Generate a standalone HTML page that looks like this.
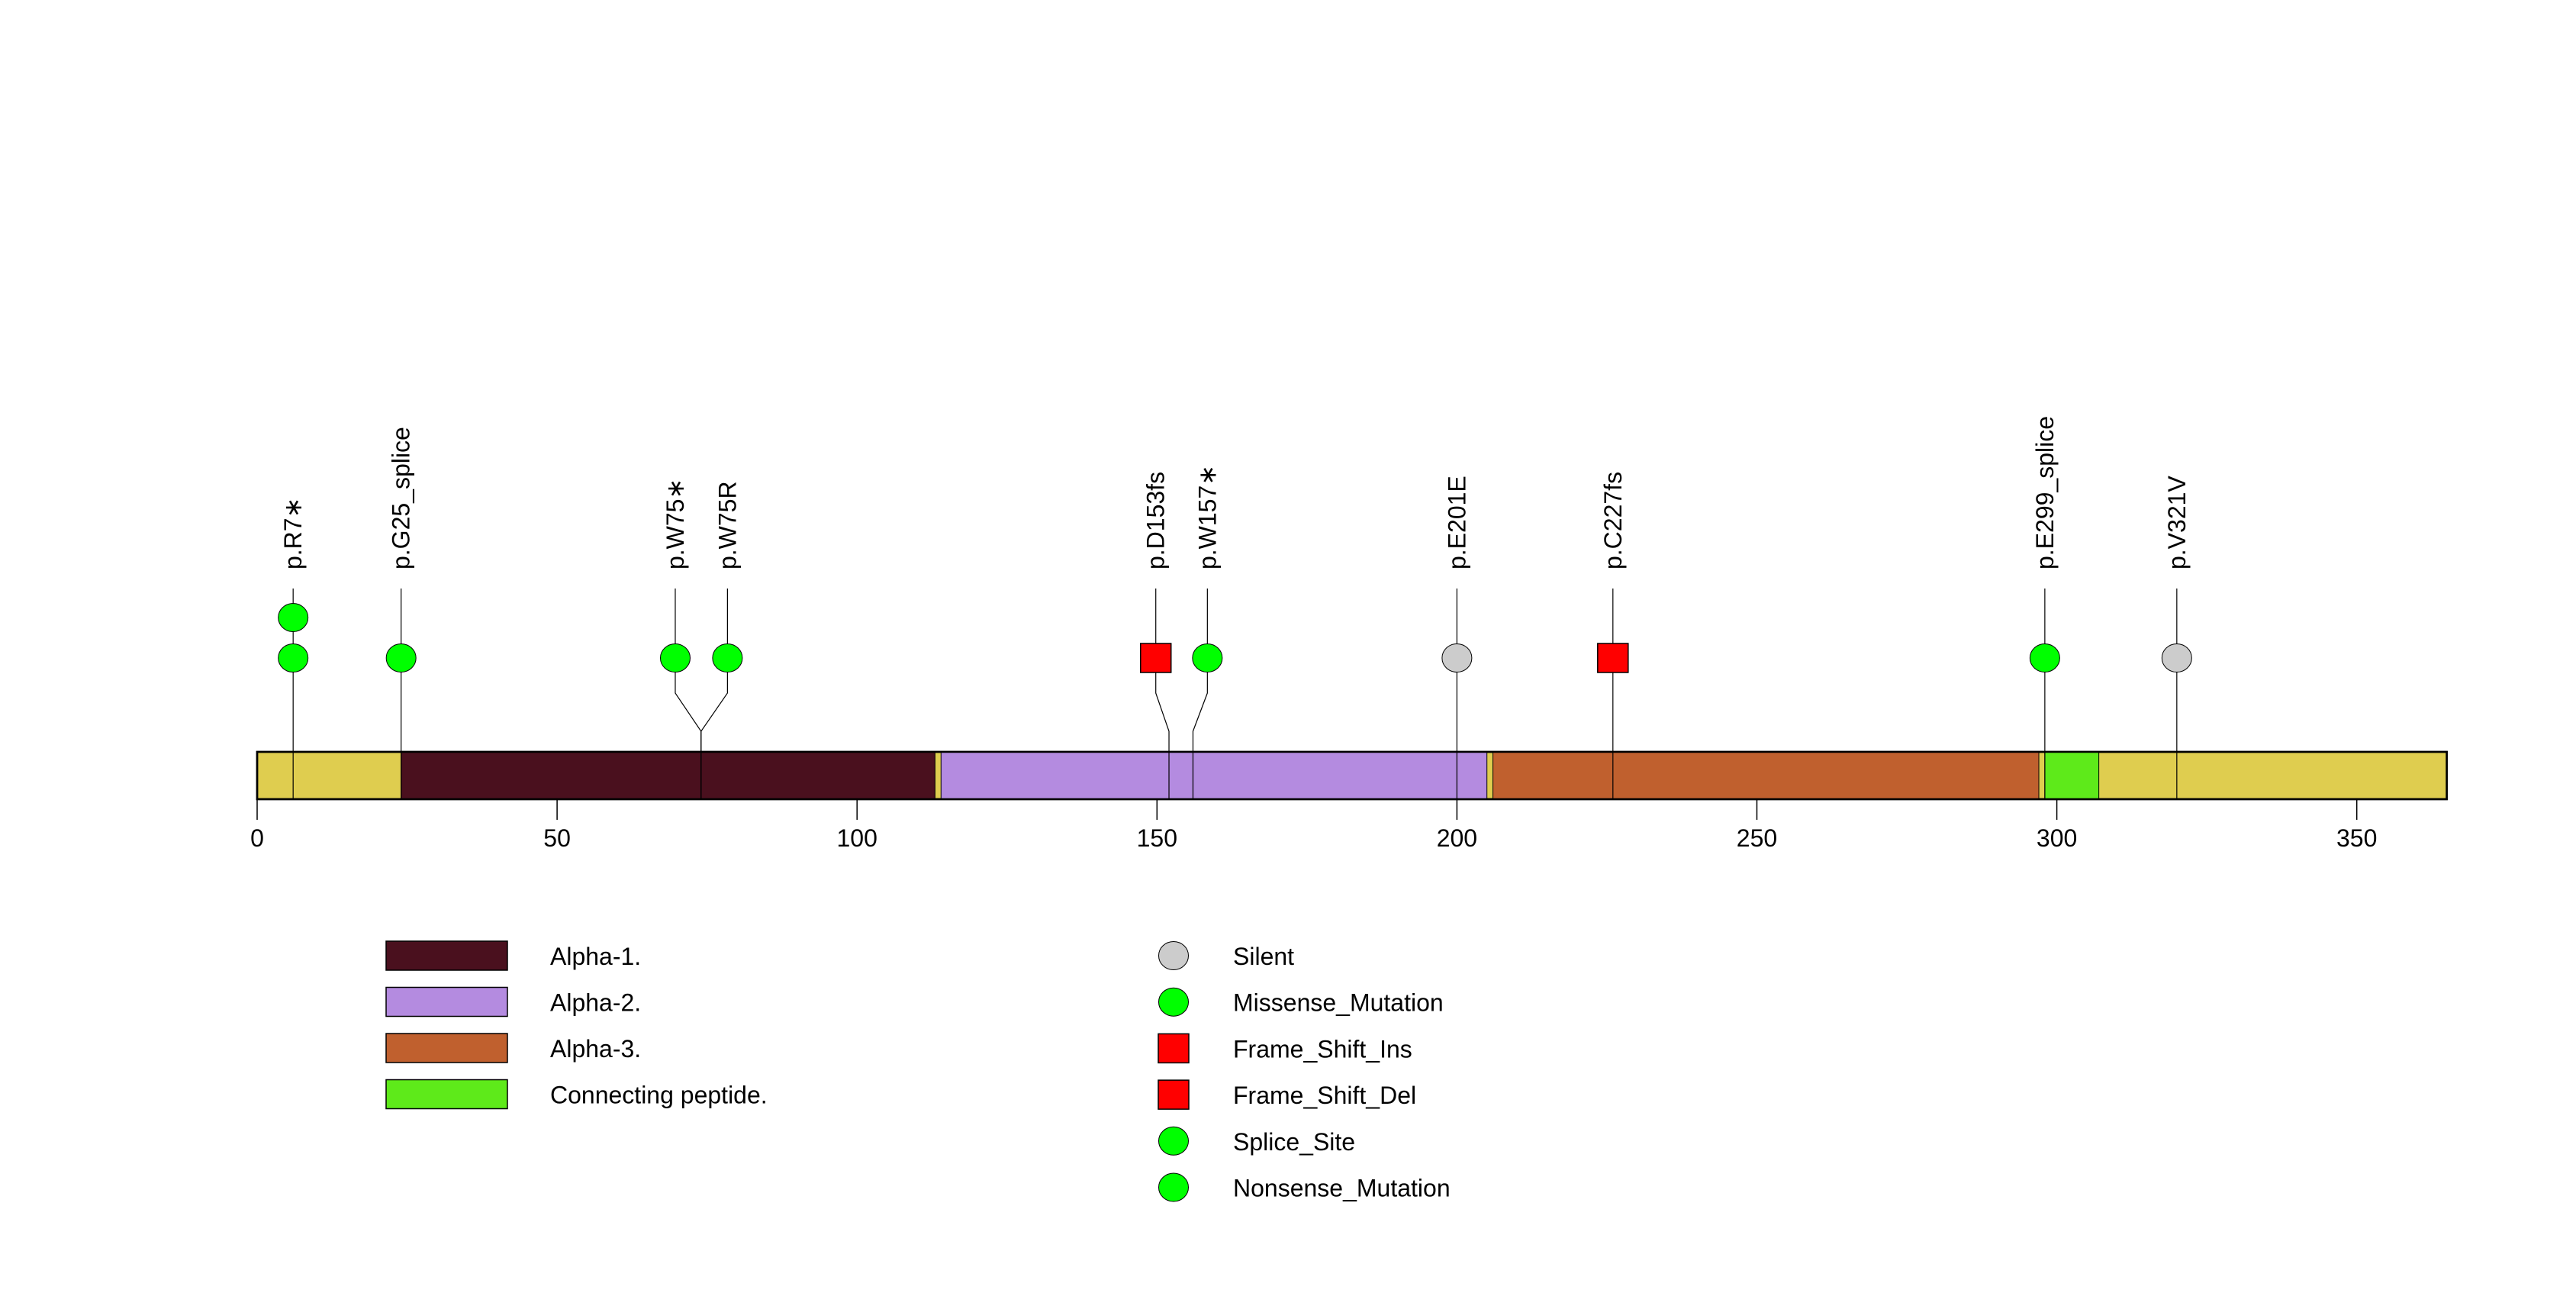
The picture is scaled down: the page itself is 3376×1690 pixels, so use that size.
<!DOCTYPE html>
<html><head><meta charset="utf-8"><style>
html,body{margin:0;padding:0;background:#fff}
svg{display:block}
text{font-family:"Liberation Sans",Arial,sans-serif;font-size:32px;fill:#000}
</style></head><body>
<svg id="chart" width="3376" height="1690" viewBox="0 0 3376 1690" xmlns="http://www.w3.org/2000/svg"></svg>
<script>
const proteinLength = 365;
const tickValues = [0, 50, 100, 150, 200, 250, 300, 350];
const domainNames = ["Alpha-1.", "Alpha-2.", "Alpha-3.", "Connecting peptide."];
const domainStarts = [24, 114, 206, 298];
const domainEnds = [113, 205, 297, 307];
const domainColors = ["#4A101E", "#B48BE0", "#C0602E", "#5EEA1A"];
const mutLabels = ["p.R7*", "p.G25_splice", "p.W75*", "p.W75R", "p.D153fs", "p.W157*", "p.E201E", "p.C227fs", "p.E299_splice", "p.V321V"];
const mutPositions = [6, 24, 74, 74, 152, 156, 200, 226, 298, 320];
const mutLabelPositions = [6, 24, 69.7, 78.4, 149.8, 158.4, 200, 226, 298, 320];
const mutCounts = [2, 1, 1, 1, 1, 1, 1, 1, 1, 1];
const mutTypes = ["green", "green", "green", "green", "square", "green", "gray", "square", "green", "gray"];
const legendTypes = ["Silent", "Missense_Mutation", "Frame_Shift_Ins", "Frame_Shift_Del", "Splice_Site", "Nonsense_Mutation"];
const legendShapes = ["gray", "green", "square", "square", "green", "green"];

const svg = document.getElementById('chart');
const NS = 'http://www.w3.org/2000/svg';
const X0 = 337, PXU = 7.862;
const xs = v => X0 + v * PXU;
const BAR_T = 985, BAR_B = 1047;
const ROW1 = 862, ROWSTEP = 53;
const ry = n => ROW1 - n * ROWSTEP;
function mk(tag, attrs, parent) {
  const e = document.createElementNS(NS, tag);
  for (const k in attrs) e.setAttribute(k, attrs[k]);
  (parent || svg).appendChild(e);
  return e;
}
function marker(shape, cx, cy, parent) {
  if (shape === 'square') {
    return mk('rect', {x: cx - 20, y: cy - 19, width: 40, height: 38, fill: '#FF0000', stroke: '#000', 'stroke-width': 1.5}, parent);
  }
  return mk('ellipse', {cx: cx, cy: cy, rx: 19.5, ry: 18.5, fill: shape === 'gray' ? '#CCCCCC' : '#00FF00', stroke: '#000', 'stroke-width': 1}, parent);
}

const bb = mk('rect', {x: xs(0), y: BAR_T, width: xs(proteinLength) - xs(0), height: BAR_B - BAR_T, fill: '#DFCD4F', stroke: '#000', 'stroke-width': 2.5});


domainStarts.forEach((s, i) => {
  const r = mk('rect', {x: xs(s), y: BAR_T, width: xs(domainEnds[i]) - xs(s), height: BAR_B - BAR_T, fill: domainColors[i], stroke: '#000', 'stroke-width': 1});
  
  
});
mk('rect', {x: xs(0), y: BAR_T, width: xs(proteinLength) - xs(0), height: BAR_B - BAR_T, fill: 'none', stroke: '#000', 'stroke-width': 2.5});

const ax = mk('g', {});


mk('line', {x1: xs(tickValues[0]), x2: xs(tickValues[tickValues.length - 1]), y1: BAR_B, y2: BAR_B, stroke: '#000', 'stroke-width': 1.5}, ax);
tickValues.forEach(t => {
  mk('line', {x1: xs(t), x2: xs(t), y1: BAR_B, y2: 1074, stroke: '#000', 'stroke-width': 1.5}, ax);
  const tl = mk('text', {x: xs(t), y: 1109, 'text-anchor': 'middle'}, ax);
  tl.textContent = t;
  
  
});

mutLabels.forEach((lab, i) => {
  const g = mk('g', {});
  
  
  const lx = xs(mutLabelPositions[i]), px = xs(mutPositions[i]);
  mk('polyline', {points: `${lx},771 ${lx},908 ${px},958 ${px},${BAR_B}`, fill: 'none', stroke: '#000', 'stroke-width': 1.2}, g);
  for (let k = 0; k < mutCounts[i]; k++) marker(mutTypes[i], lx, ry(k), g);
  const t = mk('text', {x: 0, y: 0, transform: `translate(${lx + 11},746) rotate(-90)`}, g);
  t.textContent = lab.replace('*', '\u2217');
});

domainNames.forEach((n, i) => {
  const g = mk('g', {});
  
  
  const cy = 1252 + i * 60.5;
  mk('rect', {x: 506, y: cy - 19, width: 159, height: 38, fill: domainColors[i], stroke: '#000', 'stroke-width': 1.5}, g);
  const t = mk('text', {x: 721, y: cy + 12}, g);
  t.textContent = n;
});
legendTypes.forEach((n, i) => {
  const g = mk('g', {});
  
  
  const cy = 1252 + i * 60.7;
  marker(legendShapes[i], 1538, cy, g);
  const t = mk('text', {x: 1616, y: cy + 12}, g);
  t.textContent = n;
});
</script>
</body></html>
